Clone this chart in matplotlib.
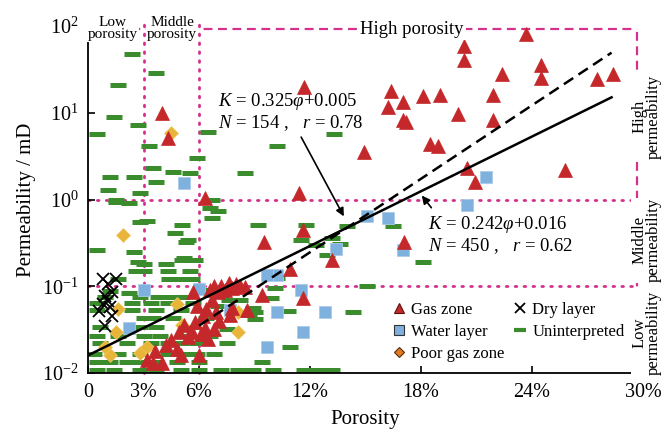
import numpy as np
import matplotlib
matplotlib.use("Agg")
import matplotlib.pyplot as plt
from matplotlib.lines import Line2D

plt.rcParams['font.family'] = ['Liberation Serif', 'DejaVu Serif']
plt.rcParams['mathtext.fontset'] = 'custom'
plt.rcParams['mathtext.rm'] = 'Liberation Serif'
plt.rcParams['mathtext.it'] = 'Liberation Serif:italic'
plt.rcParams['mathtext.bf'] = 'Liberation Serif:bold'

# ---------------- data (porosity %, permeability mD) ----------------
gas_phi = [11.7, 23.7, 20.3, 20.3, 22.4, 24.5, 24.5, 27.5, 28.4, 16.4, 17.0, 16.2, 18.1, 19.0,
           21.9, 17.0, 17.2, 20.0, 21.9, 14.9, 18.5, 18.9, 20.5, 20.9, 25.8, 11.4, 4.0, 4.3, 6.3,
           17.1, 13.2, 11.6, 10.9, 11.6, 9.5, 9.4, 8.6, 7.8, 7.7,
           3.5, 4.0, 3.6, 4.2, 4.5, 4.8, 4.9, 5.2, 5.6, 5.8, 5.7, 5.9, 6.2, 6.3, 6.5, 6.4, 6.7,
           6.9, 7.0, 7.2, 7.4, 7.6, 7.8, 8.0, 8.2, 8.5, 6.8, 6.6, 7.1, 6.8, 6.1, 5.4, 3.2, 6.0, 5.0]
gas_k = [20, 80, 59, 41, 28, 36, 25, 24.5, 28, 17.8, 13.5, 11.8, 15.5, 16,
         16, 8.3, 7.9, 9.8, 8.3, 3.5, 4.4, 4.1, 2.3, 1.6, 2.2, 1.2, 10, 5.1, 1.05,
         0.32, 0.20, 0.45, 0.16, 0.074, 0.32, 0.079, 0.053, 0.056, 0.047,
         0.013, 0.013, 0.018, 0.021, 0.024, 0.019, 0.030, 0.036, 0.030, 0.039, 0.086, 0.06,
         0.045, 0.033, 0.025, 0.055, 0.07, 0.05, 0.085, 0.10, 0.09, 0.11, 0.095, 0.105, 0.10,
         0.098, 0.10, 0.09, 0.04, 0.032, 0.028, 0.026, 0.014, 0.016, 0.016]

water_phi = [5.2, 21.5, 20.5, 15.1, 16.2, 17.0, 13.4, 10.2, 9.7, 11.5, 10.2, 12.8, 11.6, 9.7,
             7.7, 3.0, 6.0, 2.2]
water_k = [1.55, 1.8, 0.87, 0.65, 0.61, 0.26, 0.27, 0.135, 0.135, 0.091, 0.050, 0.05, 0.030,
           0.020, 0.053, 0.09, 0.093, 0.033]

poor_phi = [4.5, 1.9, 1.6, 1.5, 1.2, 0.9, 2.8, 3.2, 4.8, 5.1, 8.1, 8.1]
poor_k = [5.9, 0.39, 0.055, 0.030, 0.016, 0.020, 0.017, 0.020, 0.063, 0.036, 0.05, 0.030]

dry_phi = [0.8, 1.5, 1.1, 1.3, 0.9, 0.8, 1.2, 0.6, 1.3, 0.9, 1.1]
dry_k = [0.12, 0.12, 0.105, 0.085, 0.078, 0.063, 0.058, 0.052, 0.046, 0.035, 0.068]

unint_phi = [2.4, 1.6, 1.4, 0.5, 2.7, 3.7, 3.3, 3.5, 4.6, 5.5, 5.9, 6.5, 1.2, 1.1, 2.5, 3.7, 2.8,
             1.5, 10.2, 8.5, 13.3, 6.7,
             1.5, 2.2, 3.2, 2.8, 4.7, 0.5, 2.5, 5.3, 5.1, 3.0, 2.7, 2.6, 3.0, 4.3, 5.5, 4.8, 1.6,
             5.1, 5.4, 4.2, 5.2, 5.8, 4.4, 5.6, 6.6, 6.7, 7.0, 9.2, 11.8, 11.5, 12.3, 12.9, 13.2,
             14.0, 16.5, 18.1, 15.1, 10.1, 10.2, 13.6,
             2.8, 3.8, 4.3, 5.1, 0.9,
             0.5, 2.4, 3.4, 4.3, 5.7,
             0.5, 2.4, 3.7, 5.0,
             3.0, 3.5, 4.6, 6.4,
             0.65, 2.8, 3.7, 5.5,
             0.5, 1.6, 3.0, 3.9, 5.3, 6.6,
             0.65, 2.1, 3.4, 4.3, 5.0, 5.9, 7.5,
             0.3, 1.6, 2.8, 4.3, 5.1, 5.9, 6.8,
             0.5, 1.2, 2.1, 2.8, 3.7, 4.8, 6.0, 9.4,
             0.5, 1.4, 2.8, 3.7, 5.0, 6.0, 7.2, 8.1, 8.9, 10.0, 11.7, 12.5, 13.2,
             7.6, 8.2, 8.9, 10.8, 14.3, 9.0, 7.5, 10.9, 9.9, 9.0, 8.7, 6.6, 7.2, 7.0, 2.2, 1.2]
unint_k = [48, 21, 8.9, 5.7, 7.2, 29, 4.2, 2.3, 2.1, 2.0, 3.0, 6.0, 1.8, 1.3, 1.8, 1.6, 1.2,
           1.0, 4.1, 2.0, 5.7, 0.98,
           0.93, 0.91, 0.56, 0.55, 0.41, 0.26, 0.25, 0.32, 0.20, 0.18, 0.19, 0.15, 0.15, 0.15,
           0.15, 0.12, 0.12, 0.51, 0.34, 0.18, 0.21, 0.20, 0.12, 0.12, 0.81, 0.61, 0.74, 0.51,
           0.51, 0.34, 0.30, 0.23, 0.36, 0.50, 0.50, 0.19, 0.10, 0.095, 0.126, 0.31,
           0.076, 0.076, 0.076, 0.076, 0.076,
           0.065, 0.065, 0.065, 0.065, 0.065,
           0.053, 0.053, 0.053, 0.053,
           0.043, 0.043, 0.043, 0.043,
           0.034, 0.034, 0.034, 0.034,
           0.027, 0.027, 0.027, 0.027, 0.027, 0.027,
           0.022, 0.022, 0.022, 0.022, 0.022, 0.022, 0.022,
           0.0166, 0.0166, 0.0166, 0.0166, 0.0166, 0.0166, 0.0166,
           0.0134, 0.0134, 0.0134, 0.0134, 0.0134, 0.0134, 0.0134, 0.0134,
           0.0108, 0.0108, 0.0108, 0.0108, 0.0108, 0.0108, 0.0108, 0.0108, 0.0108, 0.0108,
           0.0108, 0.0108, 0.0108,
           0.069, 0.069, 0.056, 0.052, 0.05, 0.042, 0.032, 0.02, 0.074, 0.05, 0.047, 0.09, 0.08,
           0.06, 0.083, 0.088]

# fitted relations K = a * exp(b * phi)
fit_all = dict(a=0.016, b=0.242, phi_min=0.0, phi_max=28.3)
fit_gas = dict(a=0.005, b=0.325, phi_min=6.0, phi_max=28.3)

xticks = [0, 3, 6, 12, 18, 24, 30]
xticklabels = ['0', '3%', '6%', '12%', '18%', '24%', '30%']
yticks = [0.01, 0.1, 1, 10, 100]
yticklabels = [r'$10^{-2}$', r'$10^{-1}$', r'$10^{0}$', r'$10^{1}$', r'$10^{2}$']

# class boundaries
por_bounds = [3, 6]
perm_bounds = [0.1, 1]
top_line_k = 92
right_line_phi = 29.7

# ---------------- styling ----------------
RED = '#c5282b'
BLUE = '#7eb1de'
GREEN = '#3a8c2c'
YELLOW = '#e8b43a'
PINK = '#d4308c'

fig = plt.figure(figsize=(6.67, 4.42), dpi=100)
ax = fig.add_axes([0.132, 0.156, 0.832, 0.785])
ax.set_yscale('log')
ax.set_xlim(0, 30)
ax.set_ylim(0.01, 100)

for s in ['top', 'right']:
    ax.spines[s].set_visible(False)
for s in ['left', 'bottom']:
    ax.spines[s].set_linewidth(1.3)

ax.set_xticks(xticks)
ax.set_xticklabels(xticklabels)
ax.set_yticks(yticks)
ax.set_yticklabels(yticklabels)
ax.minorticks_off()
ax.tick_params(direction='in', length=5, width=1.2, labelsize=14.5, pad=7)

ax.set_xlabel('Porosity', fontsize=15, labelpad=6)
ax.set_ylabel('Permeability / mD', fontsize=15, labelpad=4)

# boundary lines
for p in por_bounds:
    ax.plot([p, p], [0.01, 110], color=PINK, lw=2.0, ls=(0, (0.6, 2.6)),
            dash_capstyle='round', clip_on=False, zorder=1)
for k in perm_bounds:
    ax.plot([0, right_line_phi], [k, k], color=PINK, lw=2.0, ls=(0, (0.6, 2.6)),
            dash_capstyle='round', zorder=1)
ax.plot([0, right_line_phi], [top_line_k, top_line_k], color=PINK, lw=1.6,
        ls=(0, (4, 2.5)), zorder=1)
ax.plot([right_line_phi, right_line_phi], [0.01, top_line_k], color=PINK, lw=1.6,
        ls=(0, (4, 2.5)), zorder=1)

# points
ax.plot(unint_phi, unint_k, ls='none', marker='_', ms=12, mew=3.6, color=GREEN, zorder=2)
ax.plot(water_phi, water_k, ls='none', marker='s', ms=9, mfc=BLUE, mec='#a9cbea', mew=0.6,
        zorder=3)
ax.plot(poor_phi, poor_k, ls='none', marker='D', ms=7.5, mfc=YELLOW, mec='#f0c860', mew=0.5,
        zorder=3)
ax.plot(gas_phi, gas_k, ls='none', marker='^', ms=9.5, mfc=RED, mec=RED, mew=0.5, zorder=4)
ax.plot(dry_phi, dry_k, ls='none', marker='x', ms=9, mew=1.3, color='black', zorder=5)

# fitted lines
x1 = np.linspace(fit_all['phi_min'], fit_all['phi_max'], 100)
ax.plot(x1, fit_all['a'] * np.exp(fit_all['b'] * x1), color='black', lw=1.8, zorder=6)
x2 = np.linspace(fit_gas['phi_min'], fit_gas['phi_max'], 100)
ax.plot(x2, fit_gas['a'] * np.exp(fit_gas['b'] * x2), color='black', lw=1.8,
        ls=(0, (4.5, 2.5)), zorder=6)

# equations and arrows
ax.text(7.0, 10.2, r'$K$ = 0.325$\varphi$+0.005' + '\n' + r'$N$ = 154 ,   $r$ = 0.78',
        fontsize=13.5, ha='left', va='center', linespacing=1.05, zorder=7)
ax.annotate('', xy=(13.9, 0.6), xytext=(11.45, 5.6),
            arrowprops=dict(arrowstyle='-|>', color='black', lw=1.2, mutation_scale=12))
ax.text(18.4, 0.39, r'$K$ = 0.242$\varphi$+0.016' + '\n' + r'$N$ = 450 ,   $r$ = 0.62',
        fontsize=13.5, ha='left', va='center', linespacing=1.05, zorder=7)
ax.annotate('', xy=(17.95, 1.18), xytext=(18.65, 0.76),
            arrowprops=dict(arrowstyle='-|>', color='black', lw=1.2, mutation_scale=12))

# region labels
wb = dict(facecolor='white', edgecolor='none', pad=0.5)
ax.text(1.35, 94, 'Low\nporosity', fontsize=11, ha='center', va='center', linespacing=0.9,
        bbox=wb, clip_on=False, zorder=8)
ax.text(4.55, 94, 'Middle\nporosity', fontsize=11, ha='center', va='center', linespacing=0.9,
        bbox=wb, clip_on=False, zorder=8)
ax.text(17.5, top_line_k, 'High porosity', fontsize=13.5, ha='center', va='center',
        bbox=dict(facecolor='white', edgecolor='none', pad=1.5), zorder=8)
for txt, k in [('High\npermeability', 9.0), ('Middle\npermeability', 0.34),
               ('Low\npermeability', 0.029)]:
    ax.text(30.2, k, txt, fontsize=12, rotation=90, ha='center', va='center',
            linespacing=0.9, bbox=dict(facecolor='white', edgecolor='none', pad=0.2),
            clip_on=False, zorder=8)

# legend
handles = [
    Line2D([], [], ls='none', marker='^', ms=7, mfc=RED, mec='#5a1010', mew=0.8),
    Line2D([], [], ls='none', marker='s', ms=7, mfc=BLUE, mec='#333333', mew=0.8),
    Line2D([], [], ls='none', marker='D', ms=5.5, mfc='#e07a22', mec='#5a2a10', mew=0.8),
    Line2D([], [], ls='none', marker='x', ms=7, mew=1.3, color='black'),
    Line2D([], [], ls='none', marker='_', ms=9, mew=3, color=GREEN),
]
labels = ['Gas zone', 'Water layer', 'Poor gas zone', 'Dry layer', 'Uninterpreted']
ax.legend(handles, labels, ncol=2, loc='upper left', bbox_to_anchor=(0.548, 0.205),
          frameon=False, fontsize=12, handlelength=0.8, handletextpad=0.35,
          columnspacing=0.5, labelspacing=0.35, borderpad=0, borderaxespad=0)

fig.savefig('out.png', dpi=100)
